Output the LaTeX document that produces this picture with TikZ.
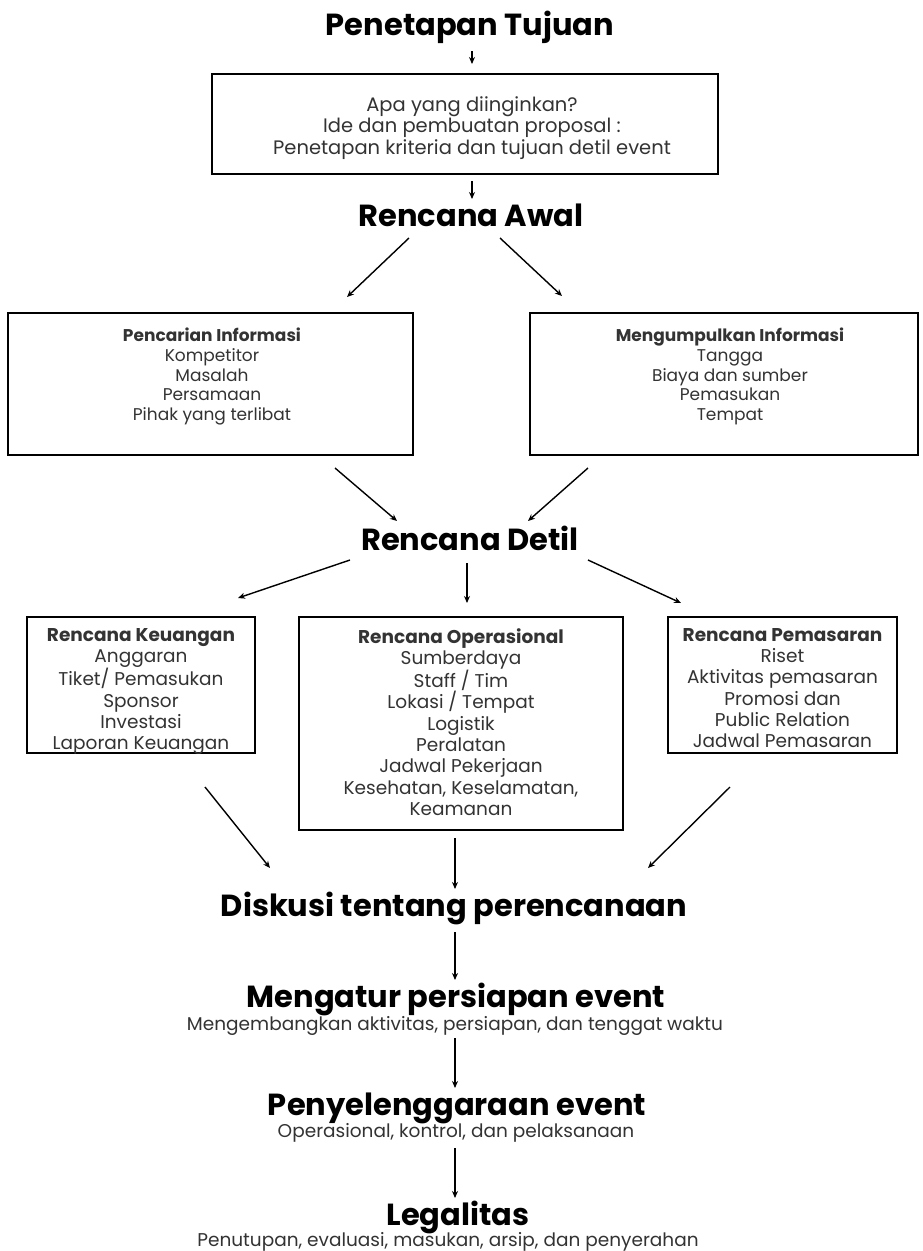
\documentclass[tikz,border=0pt]{standalone}
\usepackage{fontspec}
\setmainfont{Poppins}
\usetikzlibrary{arrows.meta}
\definecolor{txt}{HTML}{333333}
\begin{document}
\begin{tikzpicture}[x=1pt,y=-1pt,
 box/.style={draw=black,line width=2pt,inner sep=0pt},
 arr/.style={-{Stealth[length=7pt,width=6pt]},line width=1.4pt},
 ttl/.style={font=\fontsize{30.5}{34}\selectfont\bfseries},
 big/.style={font=\fontsize{30.5}{34}\selectfont\bfseries,inner sep=0pt,anchor=base},
 sub/.style={font=\fontsize{18.5}{22}\selectfont,text=txt,inner sep=0pt,anchor=base},
 btext/.style={align=center,text=txt,anchor=north,inner sep=0pt,font=\fontsize{19.5}{21.5}\selectfont},
 stext/.style={align=center,text=txt,anchor=north,inner sep=0pt,font=\fontsize{17}{19.6}\selectfont},
 mtext/.style={align=center,text=txt,anchor=north,inner sep=0pt,font=\fontsize{18.5}{21.3}\selectfont}
]
\fill[white] (0,0) rectangle (922,1251);
\useasboundingbox (0,0) rectangle (922,1251);

% titles
\node[ttl] (t1) at (470,27) {Penetapan Tujuan};
\node[ttl] (t2) at (471,215) {Rencana Awal};
\node[ttl] (t3) at (470,538) {Rencana Detil};
\node[ttl] (t4) at (454,908) {Diskusi tentang perencanaan};
\node[big] (t5) at (456,1007) {Mengatur persiapan event};
\node[sub] (s5) at (455,1030) {Mengembangkan aktivitas, persiapan, dan tenggat waktu};
\node[big] (t6) at (457,1115) {Penyelenggaraan event};
\node[sub] (s6) at (456,1137) {Operasional, kontrol, dan pelaksanaan};
\node[big] (t7) at (458,1225) {Legalitas};
\node[sub] (s7) at (448,1246) {Penutupan, evaluasi, masukan, arsip, dan penyerahan};

% boxes
\node[box,minimum width=506pt,minimum height=100pt] (b1) at (465,124) {};
\node[btext] (b1t) at (472,96) {Apa yang diinginkan?\\Ide dan pembuatan proposal :\\Penetapan kriteria dan tujuan detil event};

\node[box,minimum width=405pt,minimum height=142pt] (bl) at (210.5,384) {};
\node[stext] (blt) at (212,328) {\textbf{Pencarian Informasi}\\Kompetitor\\Masalah\\Persamaan\\Pihak yang terlibat};
\node[box,minimum width=388pt,minimum height=142pt] (br) at (724,384) {};
\node[stext] (brt) at (730,328) {\textbf{Mengumpulkan Informasi}\\Tangga\\Biaya dan sumber\\Pemasukan\\Tempat};

\node[box,minimum width=228pt,minimum height=136pt] (bk) at (141,685) {};
\node[mtext] (bkt) at (141,628) {\textbf{Rencana Keuangan}\\Anggaran\\Tiket/ Pemasukan\\Sponsor\\Investasi\\Laporan Keuangan};
\node[box,minimum width=324pt,minimum height=213pt] (bo) at (461,723.5) {};
\node[mtext] (bot) at (461,628) {\textbf{Rencana Operasional}\\Sumberdaya\\Staff / Tim\\Lokasi / Tempat\\Logistik\\Peralatan\\Jadwal Pekerjaan\\Kesehatan, Keselamatan,\\Keamanan};
\node[box,minimum width=229pt,minimum height=136pt] (bp) at (782.5,685) {};
\node[mtext] (bpt) at (782.5,628) {\textbf{Rencana Pemasaran}\\Riset\\Aktivitas pemasaran\\Promosi dan\\Public Relation\\Jadwal Pemasaran};

% arrow ends
\coordinate (a1s) at (472,51);  \coordinate (a1e) at (472,64);
\coordinate (a2s) at (472,181); \coordinate (a2e) at (472,199);
\coordinate (a3s) at (409,238); \coordinate (a3e) at (347,297);
\coordinate (a4s) at (500,238); \coordinate (a4e) at (562,296);
\coordinate (a5s) at (335,468); \coordinate (a5e) at (397,521);
\coordinate (a6s) at (588,468); \coordinate (a6e) at (528,521);
\coordinate (a7s) at (350,560); \coordinate (a7e) at (238,598);
\coordinate (a8s) at (467,563); \coordinate (a8e) at (467,603);
\coordinate (a9s) at (588,560); \coordinate (a9e) at (681,603);
\coordinate (a10s) at (205,787); \coordinate (a10e) at (270,868);
\coordinate (a11s) at (455,838); \coordinate (a11e) at (455,889);
\coordinate (a12s) at (730,787); \coordinate (a12e) at (648,868);
\coordinate (a13s) at (455,932); \coordinate (a13e) at (455,980);
\coordinate (a14s) at (455,1038); \coordinate (a14e) at (455,1088);
\coordinate (a15s) at (455,1148); \coordinate (a15e) at (455,1198);

\foreach \i in {1,...,15} {\draw[arr] (a\i s) -- (a\i e);}
\end{tikzpicture}
\end{document}
